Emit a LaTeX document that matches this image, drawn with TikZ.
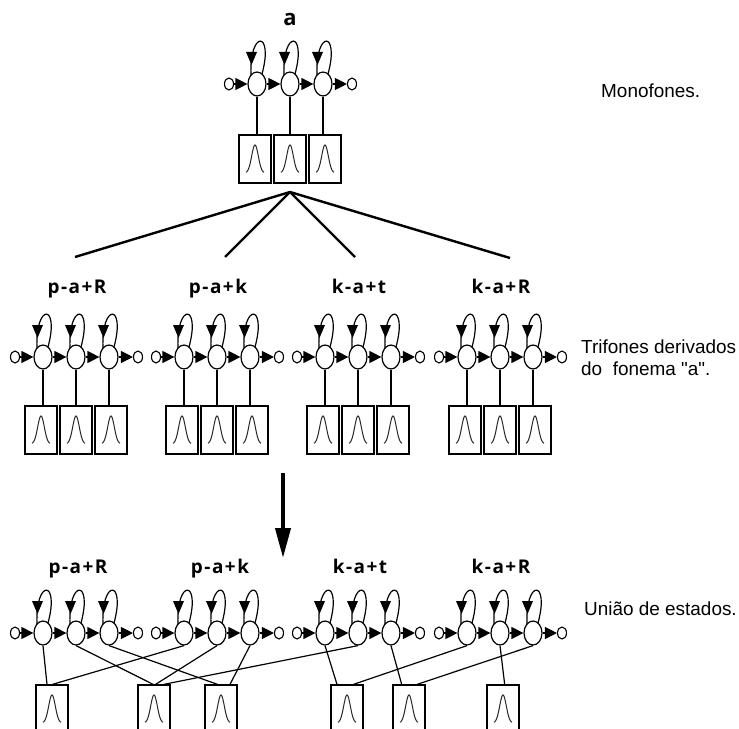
\documentclass[tikz,border=0pt]{standalone}
\usepackage{fontspec}
\setmainfont{Liberation Sans}
\newfontfamily\notefont{Liberation Sans}[Ligatures=TeXOff]
\newfontfamily\lblfont{Open Sans}[LetterSpace=8]
\usetikzlibrary{arrows.meta,shapes.geometric,calc}

\tikzset{
  state/.style={ellipse, draw, line width=1.2bp, minimum width=18bp, minimum height=24bp, inner sep=0pt, fill=white},
  endpt/.style={ellipse, draw, line width=1.1bp, minimum width=9bp, minimum height=12bp, inner sep=0pt, fill=white},
  trans/.style={line width=1.2bp, -{Triangle[length=12bp,width=12bp]}},
  looparc/.style={line width=1.2bp},
  stem/.style={line width=1.4bp},
  link/.style={line width=1.2bp},
  pdfbox/.style={rectangle, draw, line width=1.4bp, minimum width=32bp, minimum height=48bp, inner sep=0pt},
  bellcurve/.style={line width=1bp, draw=black!85},
  branch/.style={line width=2.4bp},
  downarrow/.style={line width=4bp, -{Triangle[length=30bp,width=15bp]}},
  tag/.style={font=\lblfont\bfseries\fontsize{19}{21}\selectfont, anchor=base},
  note/.style={font=\notefont\fontsize{19}{22}\selectfont, anchor=base west, inner sep=0pt},
}

% self-transition drawn above a state node
\newcommand\selfloop[1]{%
  \draw[looparc] ($(#1)+(5,-10)$) .. controls ($(#1)+(17,-54)$) and ($(#1)+(-8,-54)$) .. ($(#1)+(-6,-9)$);
  \fill ($(#1)+(-5.5,-19)$) -- ($(#1)+(-11,-32)$) -- ($(#1)+(0,-32)$) -- cycle;
}

% three-state left-to-right model: #1 name, #2 x of middle state, #3 y
\newcommand\hmmchain[3]{%
  \node[state] (#1-2) at (#2,#3) {};
  \node[state] (#1-1) at (#2-33,#3) {};
  \node[state] (#1-3) at (#2+33,#3) {};
  \node[endpt] (#1-in) at (#2-61,#3) {};
  \node[endpt] (#1-out) at (#2+62,#3) {};
  \draw[trans] (#1-in.east) -- (#1-1.west);
  \draw[trans] (#1-1.east) -- (#1-2.west);
  \draw[trans] (#1-2.east) -- (#1-3.west);
  \draw[trans] (#1-3.east) -- (#1-out.west);
  \selfloop{#1-1}\selfloop{#1-2}\selfloop{#1-3}
}

% output density box with a bell curve: #1 name, #2 x, #3 y
\newcommand\densitybox[3]{%
  \node[pdfbox] (#1) at (#2,#3) {};
  \draw[bellcurve, shift={(#1.center)}] plot[domain=-9:9, samples=45, smooth] (\x, {14-28*exp(-(\x)^2/22)});
}

% model with its own three density boxes: #1 name, #2 x, #3 state y, #4 box y
\newcommand\fullmodel[4]{%
  \hmmchain{#1}{#2}{#3}
  \densitybox{#1-b1}{#2-35}{#4}
  \densitybox{#1-b2}{#2}{#4}
  \densitybox{#1-b3}{#2+35}{#4}
  \draw[stem] (#1-1.south) -- (#1-1.south |- #1-b1.north);
  \draw[stem] (#1-2.south) -- (#1-2.south |- #1-b2.north);
  \draw[stem] (#1-3.south) -- (#1-3.south |- #1-b3.north);
}

\begin{document}
\begin{tikzpicture}[x=1bp, y=-1bp]
\path[use as bounding box] (0,0) rectangle (739,729);
\clip (0,0) rectangle (739,729);

% monophone model
\node[tag, font=\lblfont\bfseries\fontsize{22}{24}\selectfont] (mono-name) at (290,26) {a};
\fullmodel{mono}{290}{84}{159}
\node[note] (mono-note) at (601,98) {Monofones.};

% branching to the triphones
\coordinate (apex) at (290,192);
\coordinate (br1) at (75,257);
\coordinate (br2) at (225,257);
\coordinate (br3) at (355,257);
\coordinate (br4) at (510,258);
\foreach \b in {br1,br2,br3,br4} \draw[branch] (apex) -- (\b);

% triphone models
\node[tag] (t1-name) at (77,293) {p-a+R};
\node[tag] (t2-name) at (218,293) {p-a+k};
\node[tag] (t3-name) at (359,293) {k-a+t};
\node[tag] (t4-name) at (501,293) {k-a+R};
\fullmodel{t1}{76}{357}{430}
\fullmodel{t2}{217}{357}{430}
\fullmodel{t3}{358}{357}{430}
\fullmodel{t4}{500}{357}{430}
\node[note] (tri-note1) at (581,353) {Trifones derivados};
\node[note] (tri-note2) at (581,375) {do~ fonema "a".};

% tying step
\coordinate (dn-a) at (283,473);
\coordinate (dn-b) at (283,558);
\draw[downarrow] (dn-a) -- (dn-b);

% tied models
\node[tag] (u1-name) at (78,573) {p-a+R};
\node[tag] (u2-name) at (220,573) {p-a+k};
\node[tag] (u3-name) at (360,573) {k-a+t};
\node[tag] (u4-name) at (501,573) {k-a+R};
\hmmchain{u1}{76}{633}
\hmmchain{u2}{217}{633}
\hmmchain{u3}{358}{633}
\hmmchain{u4}{500}{633}
\node[note] (tie-note) at (584,615) {União de estados.};

% shared density boxes
\densitybox{d1}{52}{709}
\densitybox{d2}{154}{709}
\densitybox{d3}{221}{709}
\densitybox{d4}{347}{709}
\densitybox{d5}{409}{709}
\densitybox{d6}{503}{709}

\draw[link] (u1-1.south) -- ($(d1.north west)!0.35!(d1.north east)$);
\draw[link] (u2-1.south) -- ($(d1.north west)!0.52!(d1.north east)$);
\draw[link] (u1-2.south) -- ($(d2.north west)!0.47!(d2.north east)$);
\draw[link] (u2-2.south) -- ($(d2.north west)!0.55!(d2.north east)$);
\draw[link] (u3-2.south) -- ($(d2.north west)!0.80!(d2.north east)$);
\draw[link] (u1-3.south) -- ($(d3.north west)!0.39!(d3.north east)$);
\draw[link] (u2-3.south) -- ($(d3.north west)!0.77!(d3.north east)$);
\draw[link] (u3-1.south) -- ($(d4.north west)!0.20!(d4.north east)$);
\draw[link] (u4-1.south) -- ($(d4.north west)!0.70!(d4.north east)$);
\draw[link] (u3-3.south) -- ($(d5.north west)!0.28!(d5.north east)$);
\draw[link] (u4-3.south) -- ($(d5.north west)!0.75!(d5.north east)$);
\draw[link] (u4-2.south) -- ($(d6.north west)!0.55!(d6.north east)$);
\end{tikzpicture}
\end{document}
